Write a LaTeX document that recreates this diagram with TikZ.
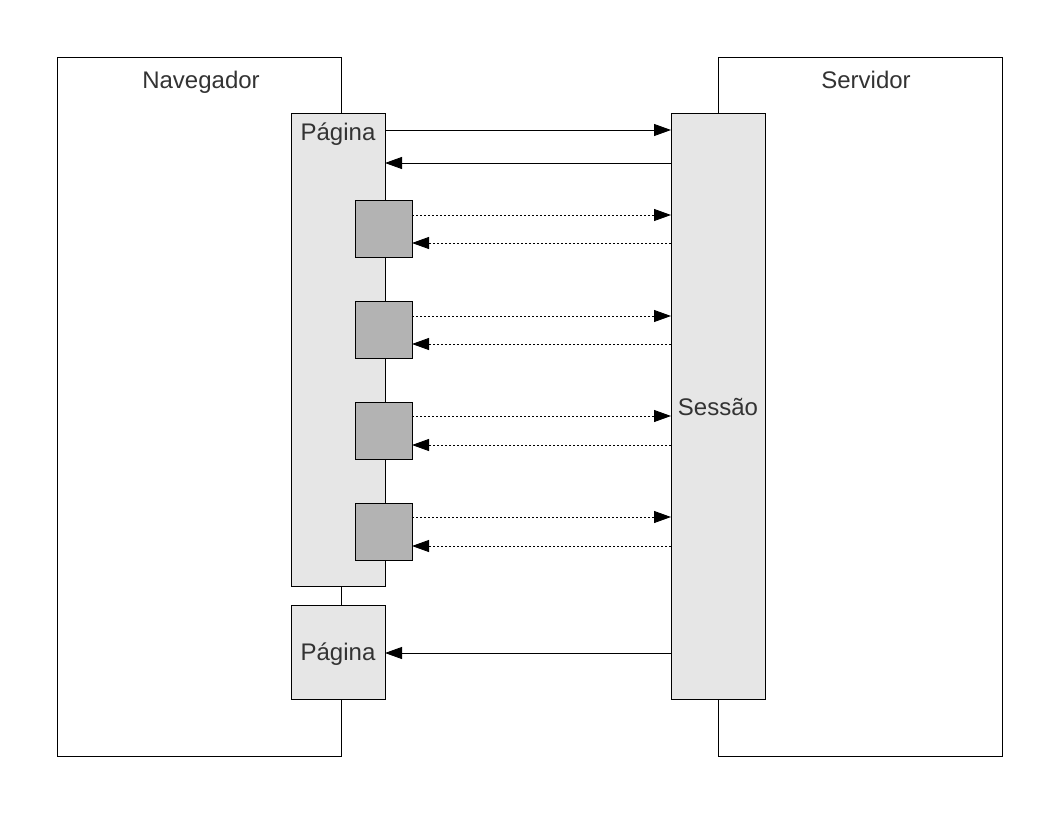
\documentclass[tikz,border=0pt]{standalone}
\usepackage{fontspec}
\setmainfont{Liberation Sans}
\usetikzlibrary{arrows.meta}
\definecolor{boxgray}{HTML}{E6E6E6}
\definecolor{widgetgray}{HTML}{B3B3B3}
\definecolor{labelgray}{HTML}{333333}
\begin{document}
\begin{tikzpicture}[x=1pt,y=-1pt,line width=0.9pt,
  frame/.style={draw=black},
  panel/.style={draw=black,fill=boxgray},
  widget/.style={draw=black,fill=widgetgray},
  label/.style={font=\fontsize{24}{26}\selectfont,text=labelgray,inner sep=0pt},
  msg/.style={-{Triangle[length=17pt,width=12pt]}},
  call/.style={msg,dash pattern=on 2pt off 2pt}]
\useasboundingbox (0,0) rectangle (1056,816);
\fill[white] (0,0) rectangle (1056,816);

% client and server frames
\draw[frame] (57,57) rectangle (341,756);
\draw[frame] (718,57) rectangle (1002,756);
\node[label] (nav) at (201,82) {Navegador};
\node[label] (srv) at (866,80) {Servidor};

% pages and session
\path[panel] (291,113) rectangle (385,586);
\node[label] (p1lbl) at (338,134) {Página};
\coordinate (p1r) at (385,0);
\path[panel] (291,605) rectangle (385,699);
\node[label] (p2) at (338,654) {Página};
\path[panel] (671,113) rectangle (765,699);
\node[label] (ses) at (718,407) {Sessão};
\coordinate (sl) at (671,0);

% widgets inside the first page
\foreach \t/\n in {200/w1,301/w2,402/w3,503/w4}{
  \path[widget] (355,\t) rectangle (412,\t+57);
  \coordinate (\n) at (412,0);
}

% page request and response
\draw[msg] (p1r |- 0,130) -- (sl |- 0,130);
\draw[msg] (sl |- 0,163) -- (p1r |- 0,163);

% asynchronous calls
\foreach \n/\a/\b in {w1/215/243,w2/316/344,w3/416/445,w4/517/546}{
  \draw[call] (\n |- 0,\a) -- (sl |- 0,\a);
  \draw[call] (sl |- 0,\b) -- (\n |- 0,\b);
}

% new page
\draw[msg] (sl |- 0,653) -- (p1r |- 0,653);
\end{tikzpicture}
\end{document}
